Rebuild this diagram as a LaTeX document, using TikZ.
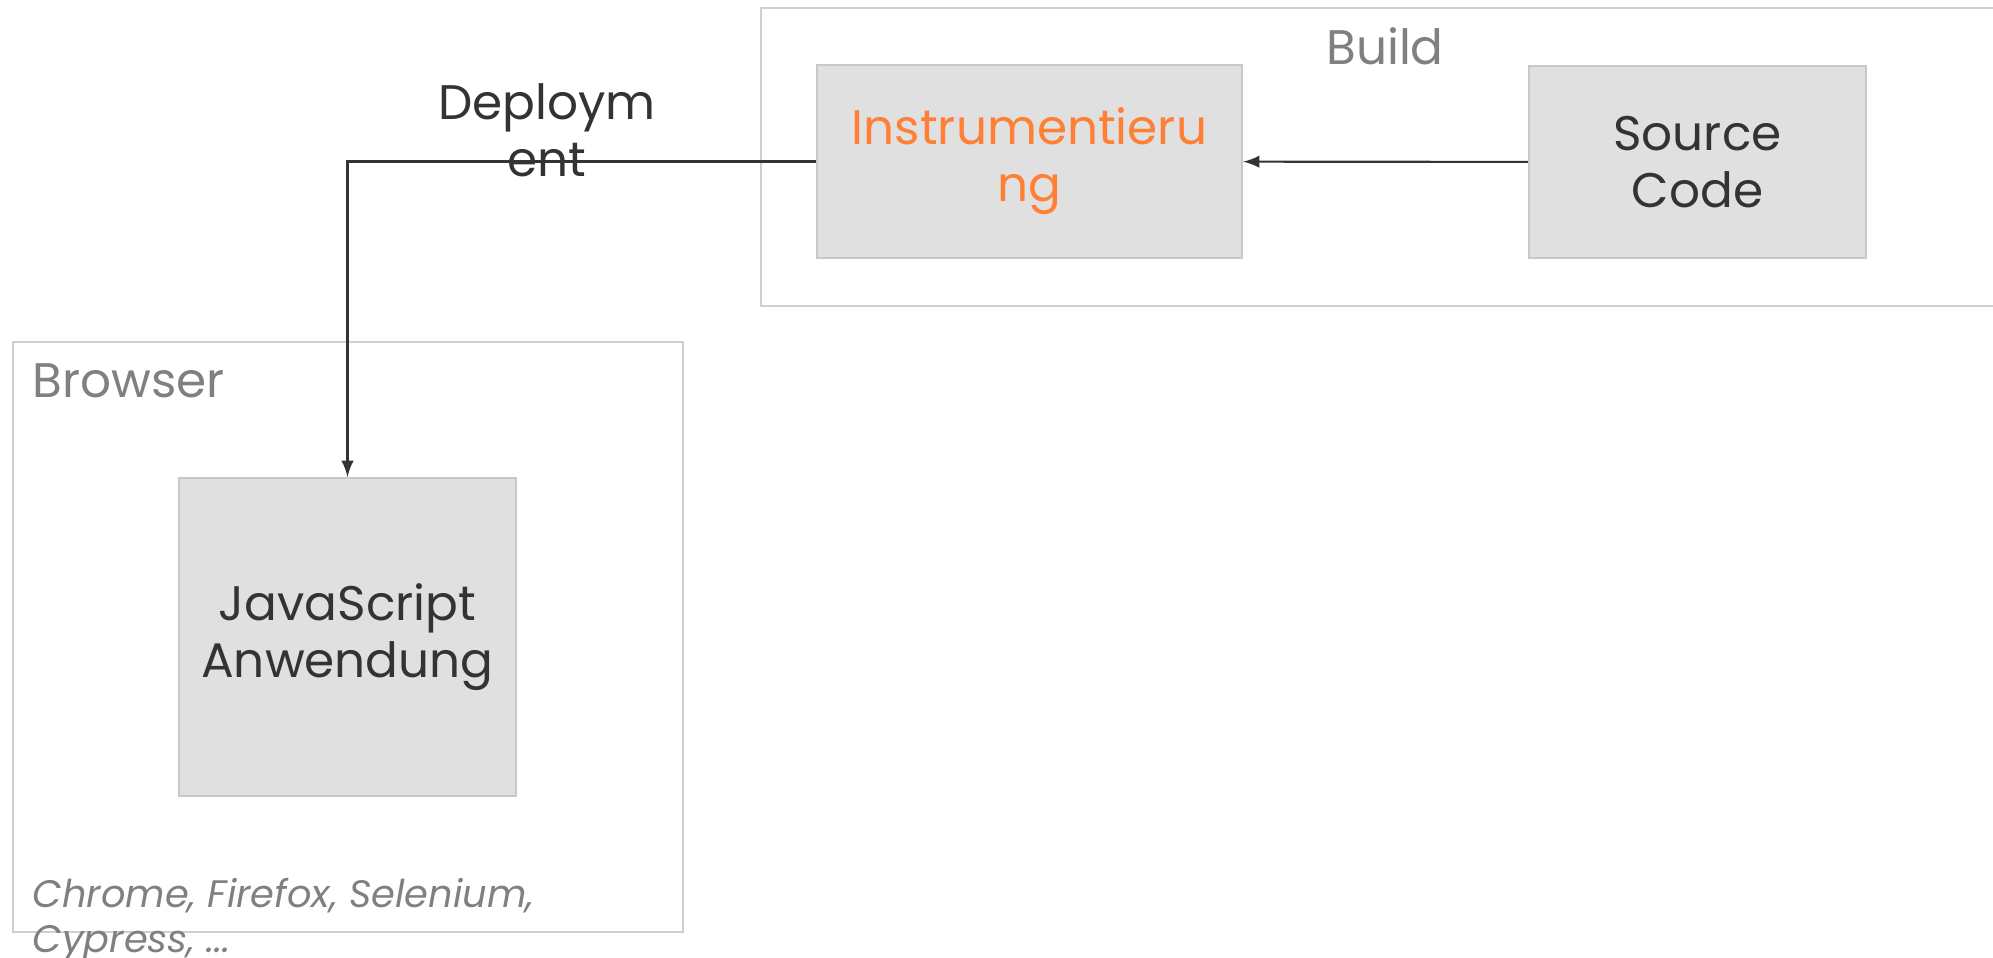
\documentclass[tikz,border=0pt]{standalone}
\usepackage{fontspec}
\setmainfont{Poppins}
\usepackage{tikz}
\usetikzlibrary{arrows, positioning, calc}
\definecolor{boxgrey}{HTML}{E0E0E0}
\definecolor{boxline}{HTML}{C8C8C8}
\definecolor{frameline}{HTML}{D0D0D0}
\definecolor{darktext}{HTML}{333333}
\definecolor{labelgrey}{HTML}{808080}
\definecolor{instrorange}{HTML}{FF7F35}
\tikzstyle{bloc} = [
    rectangle,
    fill = boxgrey,
    draw = boxline,
    line width = 0.6pt,
    text centered,
    align = center,
    text = darktext,
    font = \fontsize{13.8pt}{16.2pt}\selectfont,
]
\tikzstyle{cadre} = [
    draw = frameline,
    line width = 0.6pt,
]
\tikzstyle{titre} = [
    text = labelgrey,
    inner sep = 0pt,
    font = \fontsize{13.8pt}{16.2pt}\selectfont,
]
\tikzstyle{fleche} = [
    draw = darktext,
    line width = 0.6pt,
    -latex,
]
\begin{document}
\begin{tikzpicture} [x = 0.01cm, y = -0.01cm]
    \useasboundingbox (0,0) rectangle (1993,957);
    % cadres
    \draw[cadre] (761,8) rectangle (2010,306);
    \draw[cadre] (13,342) rectangle (683,932);
    \node (build) [titre] at (1385,46) {Build};
    \node (browser) [titre, anchor = west] at (32,381) {Browser};
    \node (clients) [titre, anchor = west, align = left, font = \fontsize{10.9pt}{12.8pt}\selectfont\itshape] at (32,920) {Chrome, Firefox, Selenium,\\Cypress, ...};

    \node (instr) [bloc, minimum width = 4.25cm, minimum height = 1.93cm, text = instrorange] at (1029.5,161.5) {Instrumentieru\\ng};
    \node (source) [bloc, minimum width = 3.37cm, minimum height = 1.92cm] at (1697.5,162) {Source\\Code};
    \node (appli) [bloc, minimum width = 3.37cm, minimum height = 3.18cm] at (347.5,637) {JavaScript\\Anwendung};

    \draw[fleche] (source) -- (instr);
    \draw[fleche] (instr) -| (appli);

    \node (deploy) [text = darktext, align = center, inner sep = 0pt, font = \fontsize{13.8pt}{16.2pt}\selectfont] at (547,130.5) {Deploym\\ent};
\end{tikzpicture}
\end{document}
